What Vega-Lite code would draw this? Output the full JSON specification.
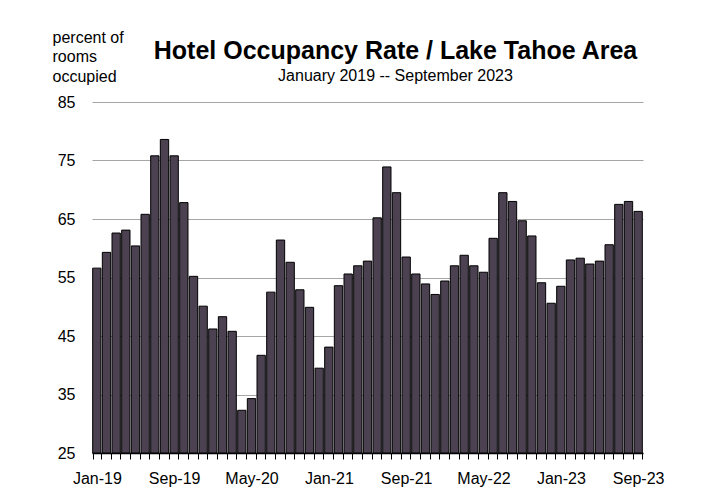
{
  "$schema": "https://vega.github.io/schema/vega-lite/v6.json",
  "width": 551,
  "height": 351,
  "autosize": {"type": "none"},
  "padding": {"left": 92, "top": 102, "right": 65, "bottom": 44},
  "background": "white",
  "title": {
    "text": "Hotel Occupancy Rate / Lake Tahoe Area",
    "subtitle": "January 2019 -- September 2023",
    "anchor": "middle",
    "dx": 28,
    "offset": -55,
    "font": "Liberation Sans",
    "fontSize": 25,
    "fontWeight": "bold",
    "color": "black",
    "subtitleFont": "Liberation Sans",
    "subtitleFontSize": 16,
    "subtitleColor": "black",
    "subtitlePadding": 4
  },
  "config": {
    "view": {"stroke": null},
    "font": "Liberation Sans"
  },
  "data": {
    "values": [
      {"month": "Jan-19", "rate": 56.6}, {"month": "Feb-19", "rate": 59.3}, {"month": "Mar-19", "rate": 62.6},
      {"month": "Apr-19", "rate": 63.1}, {"month": "May-19", "rate": 60.4}, {"month": "Jun-19", "rate": 65.8},
      {"month": "Jul-19", "rate": 75.8}, {"month": "Aug-19", "rate": 78.6}, {"month": "Sep-19", "rate": 75.8},
      {"month": "Oct-19", "rate": 67.8}, {"month": "Nov-19", "rate": 55.2}, {"month": "Dec-19", "rate": 50.1},
      {"month": "Jan-20", "rate": 46.2}, {"month": "Feb-20", "rate": 48.3}, {"month": "Mar-20", "rate": 45.8},
      {"month": "Apr-20", "rate": 32.3}, {"month": "May-20", "rate": 34.3}, {"month": "Jun-20", "rate": 41.7},
      {"month": "Jul-20", "rate": 52.5}, {"month": "Aug-20", "rate": 61.4}, {"month": "Sep-20", "rate": 57.6},
      {"month": "Oct-20", "rate": 52.9}, {"month": "Nov-20", "rate": 49.9}, {"month": "Dec-20", "rate": 39.5},
      {"month": "Jan-21", "rate": 43.1}, {"month": "Feb-21", "rate": 53.6}, {"month": "Mar-21", "rate": 55.6},
      {"month": "Apr-21", "rate": 57.0}, {"month": "May-21", "rate": 57.8}, {"month": "Jun-21", "rate": 65.2},
      {"month": "Jul-21", "rate": 73.9}, {"month": "Aug-21", "rate": 69.5}, {"month": "Sep-21", "rate": 58.5},
      {"month": "Oct-21", "rate": 55.6}, {"month": "Nov-21", "rate": 53.9}, {"month": "Dec-21", "rate": 52.1},
      {"month": "Jan-22", "rate": 54.4}, {"month": "Feb-22", "rate": 57.0}, {"month": "Mar-22", "rate": 58.8},
      {"month": "Apr-22", "rate": 57.0}, {"month": "May-22", "rate": 55.9}, {"month": "Jun-22", "rate": 61.7},
      {"month": "Jul-22", "rate": 69.5}, {"month": "Aug-22", "rate": 68.0}, {"month": "Sep-22", "rate": 64.7},
      {"month": "Oct-22", "rate": 62.1}, {"month": "Nov-22", "rate": 54.1}, {"month": "Dec-22", "rate": 50.6},
      {"month": "Jan-23", "rate": 53.5}, {"month": "Feb-23", "rate": 58.0}, {"month": "Mar-23", "rate": 58.3},
      {"month": "Apr-23", "rate": 57.3}, {"month": "May-23", "rate": 57.8}, {"month": "Jun-23", "rate": 60.6},
      {"month": "Jul-23", "rate": 67.5}, {"month": "Aug-23", "rate": 68.0}, {"month": "Sep-23", "rate": 66.3}
    ]
  },
  "mark": {"type": "bar", "fill": "#4b4150", "stroke": "black", "strokeWidth": 1},
  "encoding": {
    "x": {
      "field": "month",
      "type": "ordinal",
      "sort": null,
      "scale": {"paddingInner": 0.14, "paddingOuter": 0.07},
      "axis": {
        "title": null,
        "labelAngle": 0,
        "labelOverlap": false,
        "labelExpr": "indexof(['Jan-19','Sep-19','May-20','Jan-21','Sep-21','May-22','Jan-23','Sep-23'], datum.value) >= 0 ? datum.value : ''",
        "labelFont": "Liberation Sans",
        "labelFontSize": 16,
        "labelColor": "black",
        "labelPadding": 11,
        "tickBand": "extent",
        "tickSize": 6,
        "tickColor": "black",
        "tickWidth": 1,
        "domainColor": "black",
        "domainWidth": 1.5,
        "grid": false
      }
    },
    "y": {
      "field": "rate",
      "type": "quantitative",
      "scale": {"domain": [25, 85], "zero": false, "nice": false},
      "axis": {
        "values": [25, 35, 45, 55, 65, 75, 85],
        "title": ["percent of", "rooms", "occupied"],
        "titleAngle": 0,
        "titleAlign": "left",
        "titleBaseline": "alphabetic",
        "titleX": -40,
        "titleY": -60,
        "titleFont": "Liberation Sans",
        "titleFontSize": 16,
        "titleFontWeight": "normal",
        "titleColor": "black",
        "titleLineHeight": 19.5,
        "domain": false,
        "ticks": false,
        "tickSize": 0,
        "labelPadding": 17,
        "labelFont": "Liberation Sans",
        "labelFontSize": 16,
        "labelColor": "black",
        "grid": true,
        "gridColor": "#a6a6a6",
        "gridWidth": 1.2
      }
    },
    "y2": {"datum": 25}
  }
}
